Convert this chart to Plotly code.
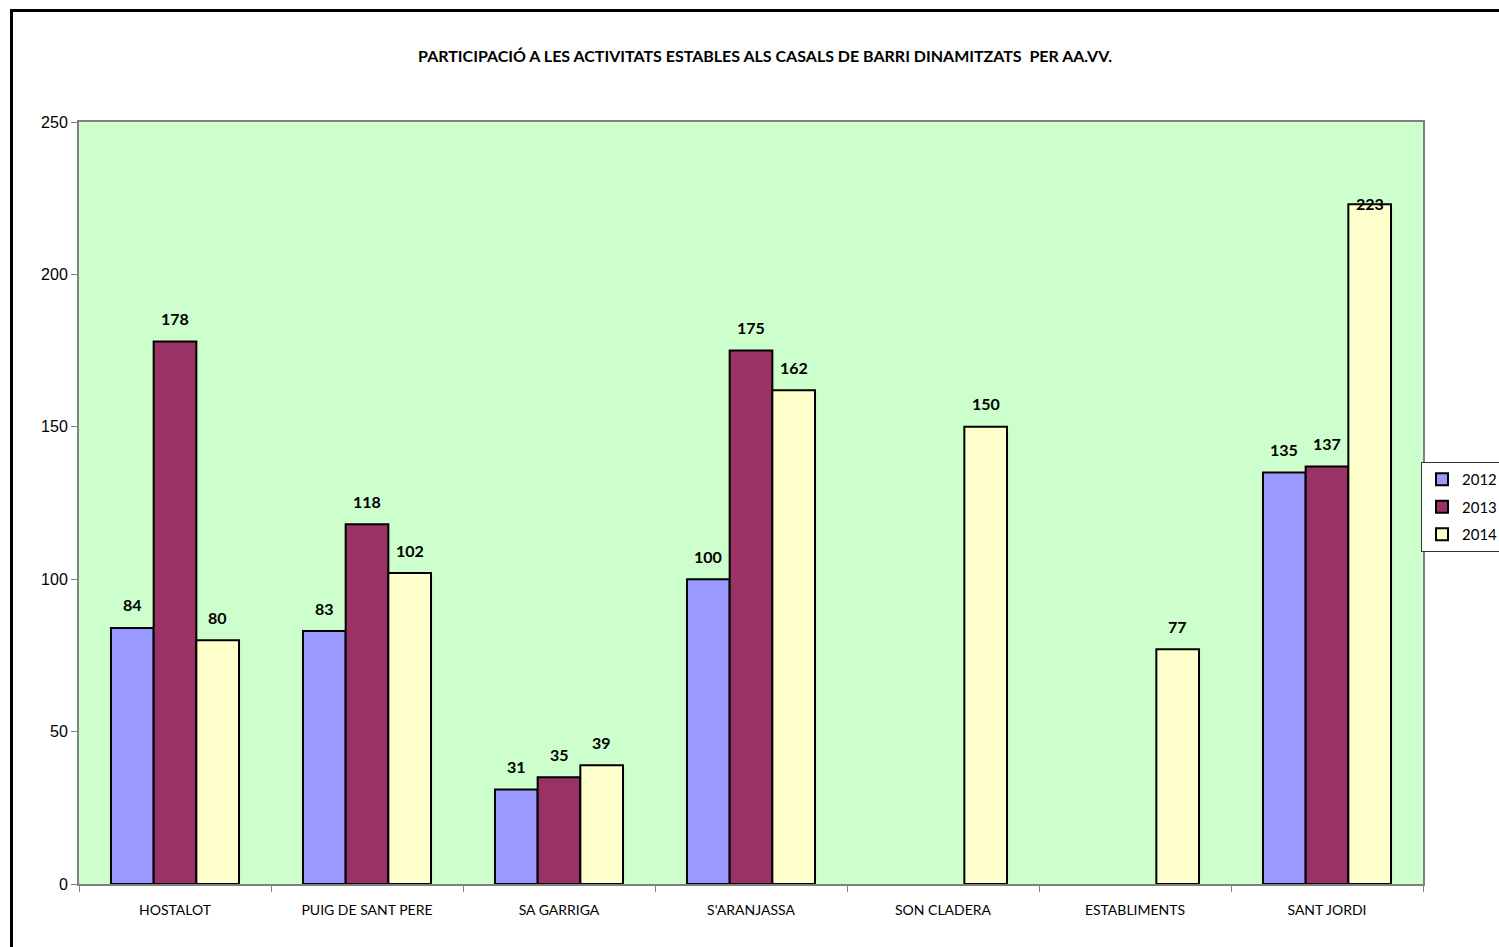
import plotly.graph_objects as go

categories = ["HOSTALOT", "PUIG DE SANT PERE", "SA GARRIGA", "S'ARANJASSA",
              "SON CLADERA", "ESTABLIMENTS", "SANT JORDI"]
v2012 = [84, 83, 31, 100, None, None, 135]
v2013 = [178, 118, 35, 175, None, None, 137]
v2014 = [80, 102, 39, 162, 150, 77, 223]
series = [("2012", v2012, "#9999FF"), ("2013", v2013, "#993366"), ("2014", v2014, "#FFFFCC")]

W, H = 1499, 947
L, R, T, B = 79, 1423, 122, 884
YMAX = 250
BARGAP = 0.333
cat_px = (R - L) / len(categories)
bar_px = cat_px * (1 - BARGAP) / len(series)

LBL_FONT = dict(family="Lato, Open Sans, sans-serif", size=16, color="black")

fig = go.Figure()
for j, (name, vals, col) in enumerate(series):
    fig.add_trace(go.Bar(
        name=name, x=categories, y=vals, legendgroup=name,
        marker=dict(color=col, line=dict(color="black", width=2)),
    ))
    for cat, v in zip(categories, vals):
        if v is None:
            continue
        near_top = v > 0.85 * YMAX
        fig.add_annotation(
            x=cat, y=v, xref="x", yref="y", text=f"<b>{v}</b>", showarrow=False,
            xshift=(j - 1) * bar_px, yshift=(1 if near_top else 23), yanchor="middle",
            font=LBL_FONT,
        )

fig.update_layout(
    width=W, height=H,
    margin=dict(l=L, r=W - R, t=T, b=H - B, autoexpand=False),
    paper_bgcolor="white",
    plot_bgcolor="#CCFFCC",
    barmode="group",
    bargap=BARGAP, bargroupgap=0,
    showlegend=True,
    title=dict(text="<b>PARTICIPACIÓ A LES ACTIVITATS ESTABLES ALS CASALS DE BARRI DINAMITZATS  PER AA.VV.</b>",
               x=765 / W, xanchor="center", xref="container",
               y=1 - 56 / H, yanchor="middle", yref="container",
               font=dict(family="Lato, Open Sans, sans-serif", size=16, color="black")),
    legend=dict(xref="container", yref="container",
                x=1421 / W, y=1 - 462 / H, xanchor="left", yanchor="top",
                bgcolor="white", bordercolor="#333333", borderwidth=1,
                font=dict(family="Lato, Open Sans, sans-serif", size=15, color="black"),
                itemwidth=30, tracegroupgap=5, traceorder="grouped"),
    xaxis=dict(showgrid=False, tickson="boundaries", ticks="outside", ticklen=6,
               tickcolor="#808080", showline=True, linecolor="#808080", linewidth=2, mirror=True,
               ticklabelstandoff=12,
               tickfont=dict(family="Lato, Open Sans, sans-serif", size=14, color="black")),
    yaxis=dict(range=[0, YMAX], dtick=50, showgrid=False, ticks="outside", ticklen=6,
               tickcolor="#808080", showline=True, linecolor="#808080", linewidth=2, mirror=True,
               zeroline=False,
               tickfont=dict(family="Liberation Sans, Arial, sans-serif", size=16, color="black")),
)

# outer chart border (left and top edges visible)
def px_x(p):
    return (p - L) / (R - L)

def px_y(p):
    return (B - p) / (B - T)

fig.add_shape(type="line", xref="paper", yref="paper",
              x0=px_x(11.5), x1=px_x(11.5), y0=px_y(10.5), y1=px_y(990),
              line=dict(color="black", width=3))
fig.add_shape(type="line", xref="paper", yref="paper",
              x0=px_x(10), x1=px_x(1540), y0=px_y(10.5), y1=px_y(10.5),
              line=dict(color="black", width=3))

fig.write_html(
    "out.html",
    config={"displayModeBar": False},
    post_script="document.body.style.margin='0';document.body.style.overflow='hidden';",
)
